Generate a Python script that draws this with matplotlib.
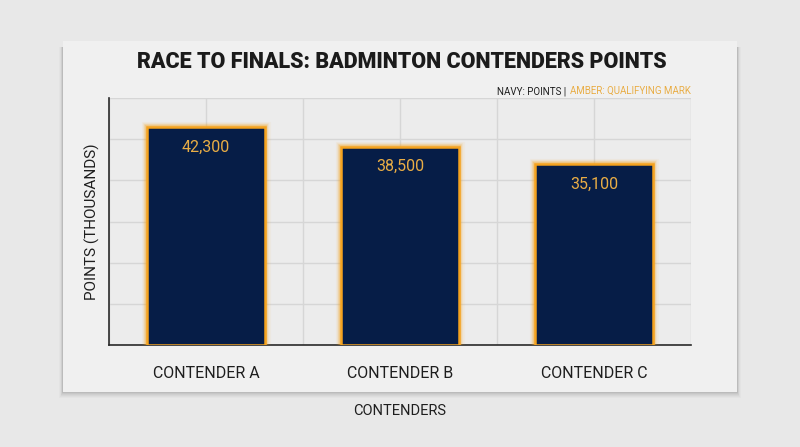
import matplotlib
matplotlib.use("Agg")
import matplotlib.pyplot as plt
from matplotlib.patches import Rectangle
from matplotlib.ticker import MultipleLocator

# data
contenders = ["CONTENDER A", "CONTENDER B", "CONTENDER C"]
points_k = [42.3, 38.5, 35.1]
labels = ["42,300", "38,500", "35,100"]

plt.rcParams['font.family'] = ['Roboto', 'DejaVu Sans']

navy = "#061d47"
amber = "#f5a31f"
amber_txt = "#e9ad45"

fig = plt.figure(figsize=(8.0, 4.47), dpi=100)
fig.patch.set_facecolor("#e8e8e8")

W, H = 800, 447
# card shadow (mostly below) + card
for d, a in [(6, 0.03), (5, 0.04), (4, 0.05), (3, 0.06), (2, 0.08), (1, 0.10)]:
    fig.patches.append(Rectangle(((63 - d * 0.6) / W, 1 - (392 + d) / H), (674 + 1.2 * d) / W, (345 + d) / H,
                                 transform=fig.transFigure, facecolor="#606060", alpha=a,
                                 edgecolor="none", zorder=0))
fig.patches.append(Rectangle((63 / W, 1 - 392 / H), 674 / W, 351 / H, transform=fig.transFigure,
                             facecolor="#f0f0f0", edgecolor="none", zorder=1))

ax = fig.add_axes([109 / W, 1 - 345 / H, 582 / W, 247 / H])
ax.set_facecolor("#ececec")
ax.set_zorder(2)

x = range(len(contenders))
# glow
for lw, a in [(8, 0.05), (6, 0.09), (4.5, 0.16), (3.2, 0.3)]:
    ax.bar(x, points_k, width=0.61, color="none", edgecolor=amber, linewidth=lw, alpha=a, zorder=3)
ax.bar(x, points_k, width=0.61, color=navy, edgecolor=amber, linewidth=1.8, zorder=4)

for xi, v, t in zip(x, points_k, labels):
    ax.text(xi, v - 3.8, t, ha="center", va="center", color=amber_txt, fontsize=11.5, zorder=6)

ax.set_xlim(-0.5, 2.5)
ax.set_ylim(0, 48)
ax.yaxis.set_major_locator(MultipleLocator(8))
ax.xaxis.set_minor_locator(MultipleLocator(0.5))
ax.set_xticks(list(x))
ax.set_xticklabels(contenders, fontsize=11.5, color="#1e1e1e")
ax.set_yticklabels([])
ax.tick_params(axis="both", which="both", length=0)
ax.tick_params(axis="x", pad=15)
ax.grid(True, which="both", color="#d6d6d6", linewidth=1.0, zorder=0)
ax.set_axisbelow(True)
for s in ["top", "right"]:
    ax.spines[s].set_visible(False)
for s in ["left", "bottom"]:
    ax.spines[s].set_color("#2a2a2a")
    ax.spines[s].set_linewidth(1.2)
ax.spines["left"].set_zorder(7)

ax.set_ylabel("POINTS (THOUSANDS)", fontsize=11, color="#1e1e1e", labelpad=3)

fig.text(402 / W, 1 - 62 / H, "RACE TO FINALS: BADMINTON CONTENDERS POINTS", ha="center", va="center",
         fontsize=15.5, fontweight="heavy", color="#1b1b1b", zorder=10)
t2 = fig.text(691 / W, 1 - 91 / H, "AMBER: QUALIFYING MARK", ha="right", va="center",
              fontsize=7, color=amber_txt, zorder=10)
fig.canvas.draw()
bb = t2.get_window_extent()
fig.text(bb.x0 / W - 0.002, 1 - 91 / H, "NAVY: POINTS | ", ha="right", va="center",
         fontsize=7, color="#1e1e1e", zorder=10)
fig.text(400 / W, 1 - 411 / H, "CONTENDERS", ha="center", va="center", fontsize=10.5,
         color="#1e1e1e", zorder=10)

fig.savefig("out.png", dpi=100, facecolor=fig.get_facecolor())
